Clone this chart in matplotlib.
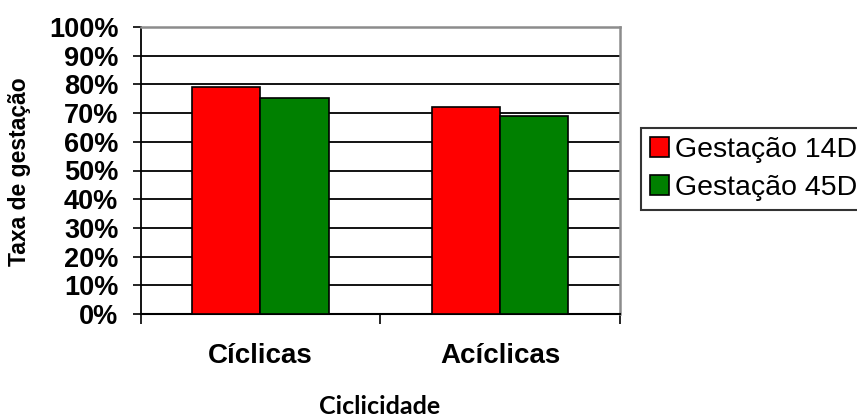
import matplotlib
matplotlib.use("Agg")
import matplotlib.pyplot as plt
import numpy as np

categories = ["Cíclicas", "Acíclicas"]
series_names = ["Gestação 14D", "Gestação 45D"]
gest_14d = [79.2, 72.0]
gest_45d = [75.2, 69.0]
yticks = list(range(0, 101, 10))
ytick_labels = [f"{v}%" for v in yticks]

colors = ["#ff0000", "#008000"]

plt.rcParams["font.family"] = ["Liberation Sans", "DejaVu Sans"]

fig = plt.figure(figsize=(8.57, 4.16), dpi=100)
ax = fig.add_axes([140.5 / 857, 1 - 314 / 416, (620 - 140.5) / 857, (314 - 27) / 416])

x = np.arange(len(categories))
w = 0.285
for i, (vals, name, c) in enumerate(zip([gest_14d, gest_45d], series_names, colors)):
    ax.bar(x + (i - 0.5) * w, vals, width=w, color=c, edgecolor="black",
           linewidth=1.2, label=name, zorder=3)

ax.set_xlim(-0.5, 1.5)
ax.set_ylim(0, 100)
ax.set_yticks(yticks)
ax.set_yticklabels(ytick_labels, fontsize=19.5, fontweight="bold")
ax.set_xticks([-0.5, 0.5, 1.5])
ax.set_xticklabels([])
ax.set_xticks(x, minor=True)
ax.set_xticklabels(categories, minor=True, fontsize=20, fontweight="bold")
ax.tick_params(axis="x", which="minor", length=0, pad=21)
ax.tick_params(axis="x", which="major", length=7, width=1.2, direction="out")
ax.tick_params(axis="y", length=6, width=1.2, direction="out", pad=10)

for v in yticks[1:-1]:
    ax.axhline(v, color="black", linewidth=1.3, zorder=1)

ax.spines["left"].set_color("black")
ax.spines["left"].set_linewidth(1.3)
ax.spines["bottom"].set_color("black")
ax.spines["bottom"].set_linewidth(1.5)
ax.spines["top"].set_color("#8c8c8c")
ax.spines["top"].set_linewidth(1.8)
ax.spines["right"].set_color("#8c8c8c")
ax.spines["right"].set_linewidth(1.8)

fig.text(20 / 857, 1 - 172 / 416, "Taxa de gestação", rotation=90,
         ha="center", va="center", fontsize=16.5, fontweight="bold",
         family=["Liberation Sans", "DejaVu Sans"])

fig.text(380 / 857, 1 - 406 / 416, "Ciclicidade", ha="center", va="center",
         fontsize=18, fontweight="bold", family=["Lato", "DejaVu Sans"])

leg = fig.legend(loc="upper left", bbox_to_anchor=(641 / 857, 1 - 128 / 416),
                 frameon=True, fancybox=False, fontsize=20.5,
                 handlelength=0.7, handleheight=0.7, handletextpad=0.2,
                 labelspacing=0.45, borderpad=0.3, borderaxespad=0)
leg.get_frame().set_edgecolor("black")
leg.get_frame().set_linewidth(1.5)

fig.savefig("out.png", dpi=100)
